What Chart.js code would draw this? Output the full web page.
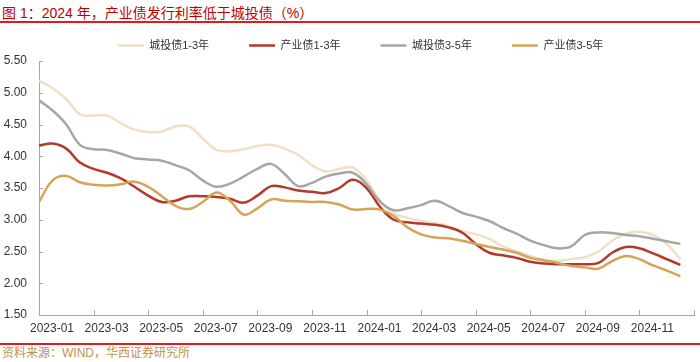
<!DOCTYPE html>
<html>
<head>
<meta charset="utf-8">
<script src="https://cdn.jsdelivr.net/npm/chart.js"></script>
<style>
  html, body { margin: 0; padding: 0; background: #fff; }
  #wrap { position: relative; width: 700px; height: 362px; overflow: hidden; font-family: "Liberation Sans", "Noto Sans CJK SC", sans-serif; }
  #title { position: absolute; left: 2px; top: 2px; font-size: 14px; color: #C00000; font-family: "Liberation Sans", "Noto Sans CJK SC", sans-serif; white-space: nowrap; }
  .rule { position: absolute; left: 0; width: 700px; height: 2px; background: #E01B1B; }
  #source { position: absolute; left: 2px; top: 346px; font-size: 12px; color: #C0914F; white-space: nowrap; line-height: 14px; }
  #c { position: absolute; left: 0; top: 0; }
</style>
</head>
<body>
<div id="wrap">
  <div id="title">图 1：2024 年，产业债发行利率低于城投债（%）</div>
  <div class="rule" style="top:21px"></div>
  <canvas id="c" width="700" height="340"></canvas>
  <div class="rule" style="top:343px"></div>
  <div id="source">资料来源：WIND，华西证券研究所</div>
</div>
<script>
// observation dates (roughly half-month apart)
const dates = [
  '2023-01-01','2023-01-16','2023-02-01','2023-02-16','2023-03-01','2023-03-16',
  '2023-04-01','2023-04-16','2023-05-01','2023-05-16','2023-06-01','2023-06-16',
  '2023-07-01','2023-07-16','2023-08-01','2023-08-16','2023-09-01','2023-09-16',
  '2023-10-01','2023-10-16','2023-11-01','2023-11-16','2023-12-01','2023-12-16',
  '2024-01-01','2024-01-16','2024-02-01','2024-02-16','2024-03-01','2024-03-16',
  '2024-04-01','2024-04-16','2024-05-01','2024-05-16','2024-06-01','2024-06-16',
  '2024-07-01','2024-07-16','2024-08-01','2024-08-16','2024-09-01','2024-09-16',
  '2024-10-01','2024-10-16','2024-11-01','2024-11-16','2024-12-01','2024-12-16'
];

const ctTouShort = [5.19,5.07,4.90,4.66,4.64,4.64,4.52,4.42,4.38,4.39,4.47,4.47,
  4.28,4.10,4.08,4.11,4.16,4.18,4.12,4.02,3.86,3.76,3.80,3.82,
  3.62,3.30,3.10,3.03,2.98,2.95,2.90,2.82,2.77,2.70,2.58,2.50,
  2.43,2.37,2.35,2.38,2.41,2.50,2.67,2.78,2.81,2.76,2.62,2.38];

const chanYeShort = [4.17,4.20,4.12,3.90,3.80,3.74,3.65,3.52,3.38,3.28,3.30,3.37,
  3.37,3.36,3.33,3.27,3.38,3.53,3.51,3.46,3.44,3.42,3.50,3.63,
  3.50,3.20,3.00,2.96,2.94,2.92,2.88,2.80,2.62,2.48,2.44,2.40,
  2.34,2.31,2.30,2.30,2.30,2.32,2.48,2.57,2.55,2.47,2.38,2.29];

const ctTouLong = [4.88,4.72,4.50,4.18,4.11,4.10,4.04,3.97,3.95,3.93,3.86,3.78,
  3.62,3.52,3.57,3.68,3.80,3.88,3.72,3.53,3.58,3.68,3.73,3.74,
  3.56,3.28,3.15,3.18,3.23,3.30,3.22,3.11,3.05,2.98,2.87,2.78,
  2.67,2.60,2.55,2.58,2.76,2.80,2.79,2.76,2.74,2.70,2.66,2.62];

const chanYeLong = [3.28,3.62,3.69,3.59,3.55,3.54,3.56,3.60,3.52,3.37,3.22,3.17,
  3.28,3.43,3.30,3.08,3.18,3.32,3.30,3.29,3.28,3.28,3.24,3.16,
  3.17,3.16,3.06,2.88,2.77,2.72,2.71,2.67,2.62,2.57,2.53,2.48,
  2.40,2.36,2.32,2.27,2.25,2.23,2.35,2.43,2.38,2.28,2.20,2.11];

const seriesNames = ['城投债1-3年', '产业债1-3年', '城投债3-5年', '产业债3-5年'];
const seriesColors = ['#EFE0C6', '#B3392D', '#A6A6A6', '#D6A456'];
const xTickLabels = ['2023-01','2023-03','2023-05','2023-07','2023-09','2023-11',
  '2024-01','2024-03','2024-05','2024-07','2024-09','2024-11'];

// months since 2023-01-01
function monthPos(d) {
  const [y, m, day] = d.split('-').map(Number);
  return (y - 2023) * 12 + (m - 1) + (day - 1) / 30;
}
const xs = dates.map(monthPos);
const toPts = arr => arr.map((v, i) => ({ x: xs[i], y: v }));

const allSeries = [ctTouShort, chanYeShort, ctTouLong, chanYeLong];
const datasets = allSeries.map((s, i) => ({
  label: seriesNames[i],
  data: toPts(s),
  borderColor: seriesColors[i],
  backgroundColor: seriesColors[i],
  borderWidth: 2.5,
  pointRadius: 0,
  tension: 0.4,
  fill: false,
  order: 3 - i
}));

// short tick marks pointing into the plot, legend nudged right
const innerTicks = {
  id: 'innerTicks',
  afterLayout(chart) {
    chart.legend.left += 12;
    chart.legend.right += 12;
  },
  afterDatasetsDraw(chart) {
    const { ctx, chartArea, scales } = chart;
    ctx.save();
    ctx.strokeStyle = '#A6A6A6';
    ctx.lineWidth = 1;
    ctx.beginPath();
    scales.y.ticks.forEach(t => {
      const py = Math.round(scales.y.getPixelForValue(t.value)) + 0.5;
      ctx.moveTo(chartArea.left, py);
      ctx.lineTo(chartArea.left + 4, py);
    });
    scales.x.ticks.forEach(t => {
      const px = Math.round(scales.x.getPixelForValue(t.value)) + 0.5;
      ctx.moveTo(px, chartArea.bottom);
      ctx.lineTo(px, chartArea.bottom - 5);
    });
    ctx.stroke();
    ctx.restore();
  }
};

new Chart(document.getElementById('c'), {
  type: 'line',
  data: { datasets },
  plugins: [innerTicks],
  options: {
    responsive: false,
    animation: false,
    layout: { padding: { left: 0, right: 3, top: 0, bottom: 0 } },
    plugins: {
      tooltip: { enabled: false },
      legend: {
        position: 'top',
        labels: {
          usePointStyle: true,
          pointStyle: 'line',
          pointStyleWidth: 26,
          padding: 40,
          color: '#333',
          font: { size: 11, family: '"Liberation Sans", "Noto Sans CJK SC"' },
          sort: (a, b) => a.datasetIndex - b.datasetIndex
        }
      }
    },
    scales: {
      x: {
        type: 'linear',
        min: 0,
        max: 24,
        afterFit: s => { s.height = 25; },
        grid: { display: true, drawOnChartArea: false, drawTicks: false },
        border: { display: true, color: '#A6A6A6', width: 1 },
        ticks: {
          stepSize: 2,
          autoSkip: false,
          maxRotation: 0,
          padding: 6,
          labelOffset: 13,
          color: '#333',
          font: { size: 12, family: '"Liberation Sans", Arial' },
          callback: v => xTickLabels[v / 2] ?? ''
        }
      },
      y: {
        min: 1.5,
        max: 5.5,
        afterFit: s => { s.width = 39; },
        grid: { display: true, drawOnChartArea: false, drawTicks: false },
        border: { display: true, color: '#A6A6A6', width: 1 },
        ticks: {
          stepSize: 0.5,
          padding: 12,
          color: '#333',
          font: { size: 12, family: '"Liberation Sans", Arial' },
          callback: v => v.toFixed(2)
        }
      }
    }
  }
});
</script>
</body>
</html>
